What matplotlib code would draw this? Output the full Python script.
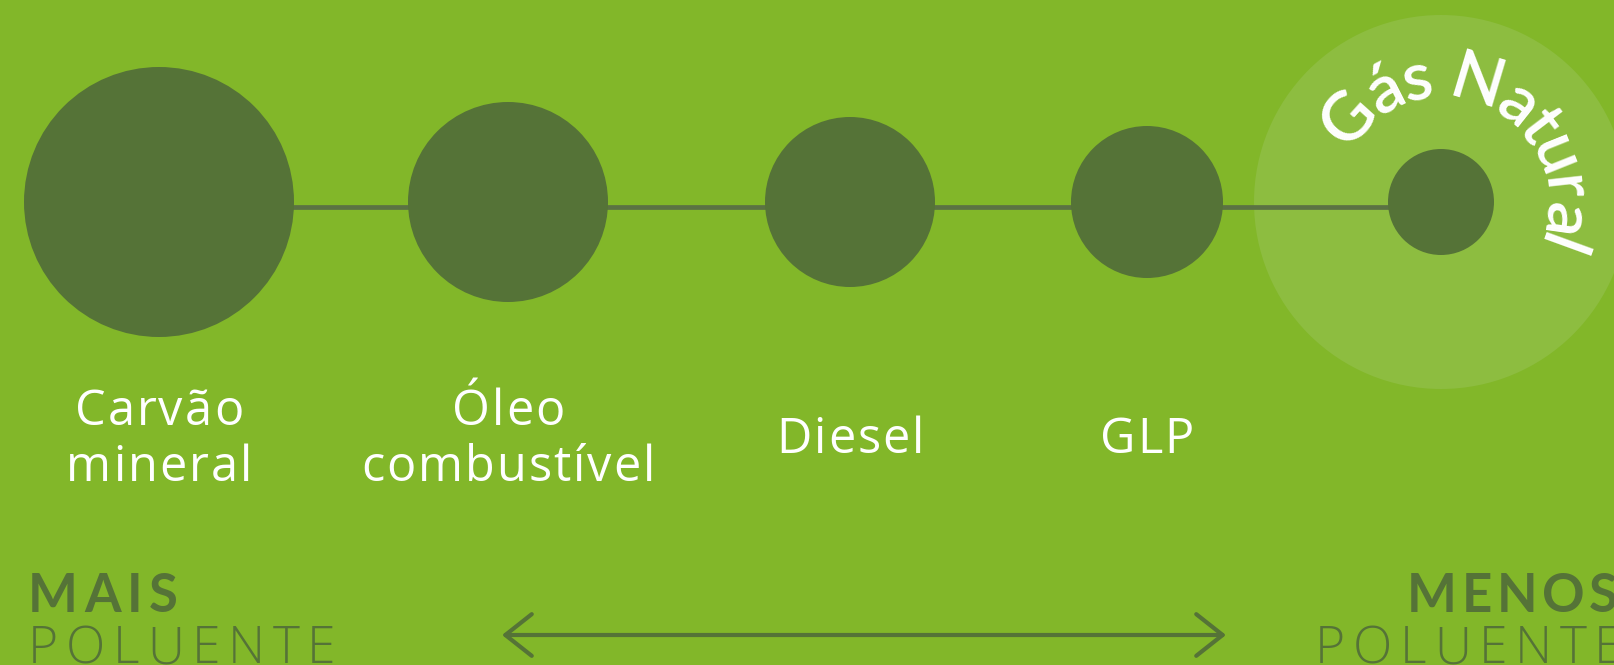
import matplotlib
matplotlib.use("Agg")
import matplotlib.pyplot as plt
from matplotlib.patches import Circle, FancyArrowPatch
from matplotlib.font_manager import FontProperties
import numpy as np

# ---------------- data ----------------
fuels = ["Carvão\nmineral", "Óleo\ncombustível", "Diesel", "GLP", "Gás Natural"]
bubble_radius = [135, 100, 85, 76, 53]   # relative pollution level (bubble radius)
left_scale = ["MAIS", "POLUENTE"]
right_scale = ["MENOS", "POLUENTE"]

# ---------------- layout / style ----------------
W, H = 1615, 665
x_centers = [159, 508, 850, 1147, 1441]
y_bubble = 202
y_line = 207
BG = "#82b729"
DARK = "#557337"
HALO = "#8dbd40"
LINE = "#5b7243"
FONT = ["Lato", "DejaVu Sans"]
FONT_LAB = ["Open Sans", "Lato", "DejaVu Sans"]

fig = plt.figure(figsize=(W / 100, H / 100), dpi=100, facecolor=BG)
ax = fig.add_axes([0, 0, 1, 1])
ax.set_xlim(0, W)
ax.set_ylim(H, 0)
ax.axis("off")
renderer = fig.canvas.get_renderer()


def adv(ch, fp):
    w1 = renderer.get_text_width_height_descent("x" + ch + "x", fp, ismath=False)[0]
    w0 = renderer.get_text_width_height_descent("xx", fp, ismath=False)[0]
    return w1 - w0


def spaced(text, x0, x1, ybase, fp, color):
    ws = np.array([adv(c, fp) for c in text])
    track = ((x1 - x0) - ws.sum()) / (len(text) - 1)
    x = x0
    for c, w in zip(text, ws):
        ax.text(x, ybase, c, ha="left", va="baseline", fontproperties=fp, color=color)
        x += w + track


def tracked_center(text, cx, ybase, fp, color, track):
    ws = np.array([adv(c, fp) for c in text])
    total = ws.sum() + track * (len(text) - 1)
    x = cx - total / 2
    for c, w in zip(text, ws):
        ax.text(x, ybase, c, ha="left", va="baseline", fontproperties=fp, color=color)
        x += w + track


def curved(text, cx, cy, R, th0, th1, fp, color):
    ws = np.array([adv(c, fp) for c in text])
    centers = np.cumsum(ws) - ws / 2
    need = R * np.deg2rad(th0 - th1)
    track = (need - (centers[-1] - centers[0])) / (len(text) - 1)
    for i, (c, s) in enumerate(zip(text, centers)):
        pos = s - centers[0] + i * track
        th = th0 - np.rad2deg(pos / R)
        t = np.deg2rad(th)
        ax.text(cx + R * np.cos(t), cy - R * np.sin(t), c, rotation=th - 90,
                rotation_mode="anchor", ha="center", va="baseline",
                fontproperties=fp, color=color, zorder=5)


# halo around the highlighted fuel
ax.add_patch(Circle((x_centers[-1], y_bubble), 187, color=HALO, zorder=1, lw=0))
# connecting line
ax.plot([x_centers[0], x_centers[-1]], [y_line, y_line], color=LINE, lw=3.4,
        zorder=2, solid_capstyle="butt")
# bubbles
for x, r in zip(x_centers, bubble_radius):
    ax.add_patch(Circle((x, y_bubble), r, color=DARK, zorder=3, lw=0))

# labels
fp_lab = FontProperties(family=FONT_LAB, size=35, weight="normal")
for x, name in zip(x_centers[:-1], fuels[:-1]):
    lines = name.split("\n")
    if len(lines) == 2:
        tracked_center(lines[0], x, 425, fp_lab, "white", 2)
        tracked_center(lines[1], x, 481, fp_lab, "white", 2)
    else:
        tracked_center(lines[0], x, 453, fp_lab, "white", 2)

# curved highlight label
fp_curve = FontProperties(family=FONT, size=49, weight="semibold")
curved(fuels[-1], x_centers[-1], y_bubble, 104, 138, -20, fp_curve, "white")

# scale labels
fp_bold = FontProperties(family=FONT, size=38, weight="bold")
fp_light = FontProperties(family=FONT_LAB, size=37, weight="light")
spaced(left_scale[0], 28, 178, 612, fp_bold, DARK)
spaced(left_scale[1], 28, 335, 663, fp_light, DARK)
spaced(right_scale[0], 1407, 1618, 612, fp_bold, DARK)
spaced(right_scale[1], 1315, 1622, 663, fp_light, DARK)

# double-headed arrow
arrow = FancyArrowPatch((502, 635), (1226, 635),
                        arrowstyle="<->,head_length=19,head_width=15",
                        mutation_scale=1, lw=3, color=DARK,
                        shrinkA=0, shrinkB=0)
ax.add_patch(arrow)

fig.savefig("out.png", dpi=100, facecolor=BG)
